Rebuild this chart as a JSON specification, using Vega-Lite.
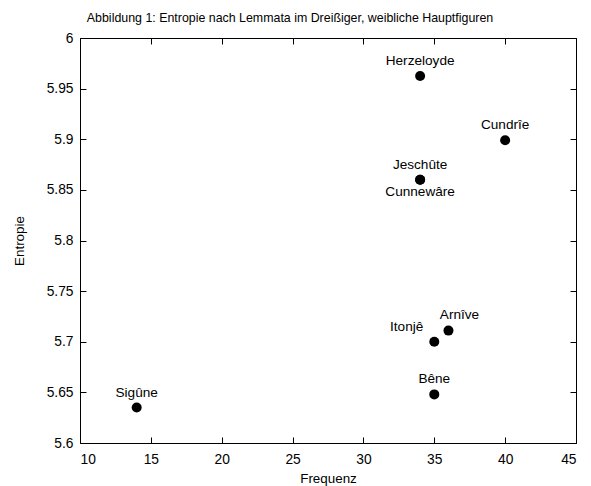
{
  "$schema": "https://vega.github.io/schema/vega-lite/v6.json",
  "width": 496,
  "height": 405,
  "autosize": {"type": "none"},
  "padding": {"left": 80, "top": 38, "right": 15, "bottom": 43},
  "background": "white",
  "title": {
    "text": "Abbildung 1: Entropie nach Lemmata im Dreißiger, weibliche Hauptfiguren",
    "fontSize": 12.4,
    "fontWeight": "normal",
    "font": "Liberation Sans",
    "color": "black",
    "anchor": "middle",
    "dx": -38,
    "offset": 7
  },
  "config": {
    "font": "Liberation Sans",
    "view": {"stroke": "black", "strokeWidth": 1},
    "axis": {
      "grid": false,
      "domain": false,
      "tickColor": "black",
      "tickSize": -6,
      "labelColor": "black",
      "labelFontSize": 13.8,
      "titleFontSize": 13.4,
      "titleFontWeight": "normal",
      "titleColor": "black"
    }
  },
  "data": {
    "values": [
      {"Name": "Herzeloyde", "Frequenz": 34, "Entropie": 5.9625},
      {"Name": "Cundrîe", "Frequenz": 40, "Entropie": 5.899},
      {"Name": "Jeschûte", "Frequenz": 34, "Entropie": 5.86},
      {"Name": "Cunnewâre", "Frequenz": 34, "Entropie": 5.86},
      {"Name": "Arnîve", "Frequenz": 36, "Entropie": 5.711},
      {"Name": "Itonjê", "Frequenz": 35, "Entropie": 5.7},
      {"Name": "Bêne", "Frequenz": 35, "Entropie": 5.648},
      {"Name": "Sigûne", "Frequenz": 14, "Entropie": 5.635}
    ]
  },
  "encoding": {
    "x": {"field": "Frequenz", "type": "quantitative", "scale": {"domain": [10, 45], "nice": false, "zero": false}},
    "y": {"field": "Entropie", "type": "quantitative", "scale": {"domain": [5.6, 6], "nice": false, "zero": false}}
  },
  "layer": [
    {
      "mark": {"type": "point", "filled": true, "size": 100, "color": "black", "opacity": 1},
      "encoding": {
        "x": {"field": "Frequenz", "type": "quantitative", "axis": {"orient": "bottom", "values": [10, 15, 20, 25, 30, 35, 40, 45], "labelPadding": 15, "title": "Frequenz", "titlePadding": 6}},
        "y": {"field": "Entropie", "type": "quantitative", "axis": {"orient": "left", "values": [5.6, 5.65, 5.7, 5.75, 5.8, 5.85, 5.9, 5.95, 6], "format": "~g", "labelPadding": 13, "title": "Entropie", "titlePadding": 20}}
      }
    },
    {
      "mark": {"type": "point", "opacity": 0},
      "encoding": {
        "x": {"field": "Frequenz", "type": "quantitative", "axis": {"orient": "top", "values": [10, 15, 20, 25, 30, 35, 40, 45], "labels": false, "title": null}},
        "y": {"field": "Entropie", "type": "quantitative", "axis": {"orient": "right", "values": [5.6, 5.65, 5.7, 5.75, 5.8, 5.85, 5.9, 5.95, 6], "labels": false, "title": null}}
      }
    },
    {
      "transform": [{"filter": "indexof(['Cunnewâre','Itonjê','Arnîve'], datum.Name) < 0"}],
      "mark": {"type": "text", "dy": -15, "fontSize": 13.6, "color": "black", "baseline": "middle"},
      "encoding": {
        "x": {"field": "Frequenz", "type": "quantitative", "axis": null},
        "y": {"field": "Entropie", "type": "quantitative", "axis": null},
        "text": {"field": "Name"}
      }
    },
    {
      "transform": [{"filter": "datum.Name === 'Cunnewâre'"}],
      "mark": {"type": "text", "dy": 12, "fontSize": 13.6, "color": "black", "baseline": "middle"},
      "encoding": {
        "x": {"field": "Frequenz", "type": "quantitative", "axis": null},
        "y": {"field": "Entropie", "type": "quantitative", "axis": null},
        "text": {"field": "Name"}
      }
    },
    {
      "transform": [{"filter": "datum.Name === 'Itonjê'"}],
      "mark": {"type": "text", "dy": -15, "dx": -11, "align": "right", "fontSize": 13.6, "color": "black", "baseline": "middle"},
      "encoding": {
        "x": {"field": "Frequenz", "type": "quantitative", "axis": null},
        "y": {"field": "Entropie", "type": "quantitative", "axis": null},
        "text": {"field": "Name"}
      }
    },
    {
      "transform": [{"filter": "datum.Name === 'Arnîve'"}],
      "mark": {"type": "text", "dy": -16, "dx": 11, "fontSize": 13.6, "color": "black", "baseline": "middle"},
      "encoding": {
        "x": {"field": "Frequenz", "type": "quantitative", "axis": null},
        "y": {"field": "Entropie", "type": "quantitative", "axis": null},
        "text": {"field": "Name"}
      }
    }
  ],
  "resolve": {"axis": {"x": "independent", "y": "independent"}}
}
